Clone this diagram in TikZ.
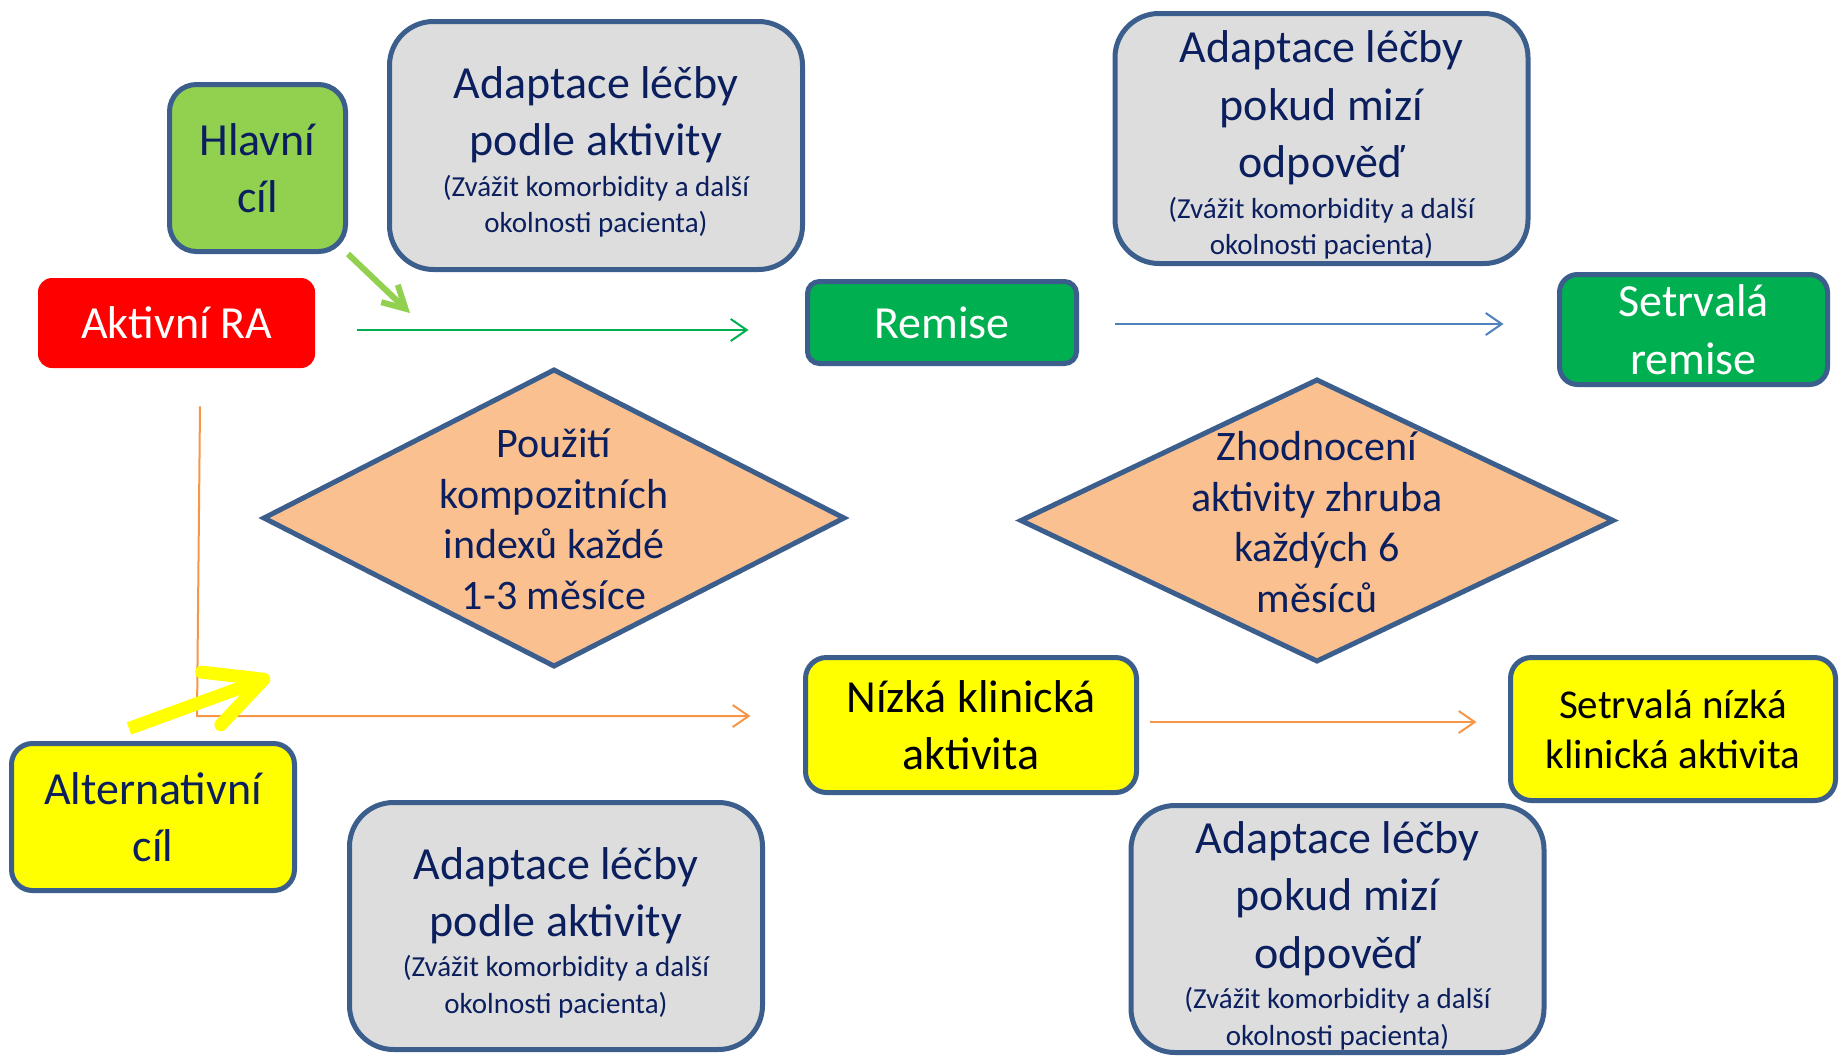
\documentclass[tikz,border=0pt]{standalone}
\usepackage{fontspec}
\setmainfont{Carlito}
\usetikzlibrary{arrows.meta,calc}
\definecolor{bord}{HTML}{3B5E8C}
\definecolor{navy}{HTML}{0B1F5E}
\definecolor{boxgray}{HTML}{DDDDDD}
\definecolor{peach}{HTML}{FAC090}
\definecolor{dgreen}{HTML}{00B050}
\definecolor{lgreen}{HTML}{92D050}
\definecolor{ablue}{HTML}{4F81BD}
\definecolor{aorange}{HTML}{F79646}
\definecolor{yel}{HTML}{FFFF00}
\newcommand{\bigf}{\fontsize{23pt}{28.75pt}\selectfont}
\newcommand{\smf}{\fontsize{14.5pt}{18.2pt}\selectfont}
\newcommand{\diaf}{\fontsize{21pt}{25.3pt}\selectfont}
\tikzset{
  base/.style={inner sep=2pt, align=center, font=\bigf},
  graybox/.style={base, align=flush center, draw=bord, line width=2.5pt, fill=boxgray, rounded corners=22pt,
     text=navy, text width=200pt, minimum width=206.5pt, minimum height=124pt},
  hlbox/.style={base, draw=bord, line width=2.5pt, fill=lgreen, rounded corners=13.5pt,
     text=navy, minimum width=88pt, minimum height=83.5pt},
  rabox/.style={base, fill=red, rounded corners=7pt, text=white,
     minimum width=138.5pt, minimum height=45pt},
  grbox/.style={base, draw=bord, line width=2.5pt, fill=dgreen, text=white},
  ybox/.style={base, draw=bord, line width=2.5pt, fill=yel, rounded corners=10.5pt},
  dia/.style={draw=bord, line width=2.5pt, fill=peach},
  diatext/.style={inner sep=0pt, align=center, font=\diaf, text=navy},
  thin/.style={line width=1pt, -{Straight Barb[length=8pt,width=11pt]}},
}
\newcommand{\grayA}{{\bigf Adaptace léčby\\podle aktivity\par}\vskip2pt{\smf (Zvážit komorbidity a další\\okolnosti pacienta)\par}\vskip-6.5pt\kern0pt}
\newcommand{\grayB}{{\bigf Adaptace léčby\\pokud mizí\\odpověď\par}\vskip2pt{\smf (Zvážit komorbidity a další\\okolnosti pacienta)\par}\vskip-6.5pt\kern0pt}
\begin{document}
\begin{tikzpicture}[x=0.5pt,y=-0.5pt]
\useasboundingbox (0,0) rectangle (1841,1056);
% boxes
\node[hlbox] (hl) at (257.5,168) {Hlavní\\cíl};
\node[rabox] (ra) at (176.5,323) {Aktivní RA};
\node[graybox] (g1) at (596,145.5) {\grayA};
\node[grbox, rounded corners=6pt, minimum width=134.5pt, minimum height=41pt] (remise) at (942,322.5) {Remise};
\node[graybox, minimum height=125pt] (g2) at (1321.5,138.5) {\grayB};
\node[grbox, rounded corners=9pt, minimum width=134pt, minimum height=55pt] (sr) at (1693.5,329.5) {Setrvalá\\remise};
% diamonds
\path[dia] (264,518) -- (554,370) -- (844,518) -- (554,666) -- cycle;
\node[diatext] (d1) at (554,519) {Použití\\kompozitních\\indexů každé\\1-3 měsíce};
\path[dia] (1021,520.5) -- (1317,380) -- (1613,520.5) -- (1317,661) -- cycle;
\node[diatext] (d2) at (1317,522) {Zhodnocení\\aktivity zhruba\\každých 6\\měsíců};
\node[ybox, minimum width=165.5pt, minimum height=67.5pt] (nizka) at (971,725) {Nízká klinická\\aktivita};
\node[ybox, font=\fontsize{20.5pt}{25pt}\selectfont, minimum width=162.5pt, minimum height=71.5pt] (snk) at (1673,729) {Setrvalá nízká\\klinická aktivita};
\node[ybox, text=navy, minimum width=141.5pt, minimum height=73.5pt] (alt) at (153,817) {Alternativní\\cíl};
\node[graybox, minimum height=123.5pt] (g3) at (556,926) {\grayA};
\node[graybox, minimum height=123.5pt] (g4) at (1337.5,929) {\grayB};
% connectors
\coordinate (gtip) at (410,313);
\coordinate (oc) at (197,716);
\coordinate (ytip) at (270,677);
\draw[thin, draw=dgreen, shorten <=21pt, shorten >=28.25pt] ([yshift=-3.5pt]ra.east) -- ([yshift=-3.5pt]ra.east -| remise.west);
\draw[line width=3pt, draw=lgreen, -{Straight Barb[length=11pt,width=12pt]}] (hl.south east) -- (gtip);
\draw[thin, draw=ablue, shorten <=17.75pt, shorten >=26.75pt] ([yshift=-0.75pt]remise.east) -- ([yshift=-0.75pt]remise.east -| sr.west);
\draw[thin, draw=aorange] ([xshift=11.75pt,yshift=-19pt]ra.south) -- (oc) -- ([xshift=-26.25pt]oc -| nizka.west);
\draw[thin, draw=aorange, shorten <=5.25pt, shorten >=15.75pt] ([yshift=1.5pt]nizka.east) -- ([yshift=1.5pt]nizka.east -| snk.west);
\draw[line width=6.5pt, draw=yel, -{Straight Barb[length=28pt,width=28pt,round]}] ([xshift=-12pt,yshift=6.25pt]alt.north) -- (ytip);
\end{tikzpicture}
\end{document}
